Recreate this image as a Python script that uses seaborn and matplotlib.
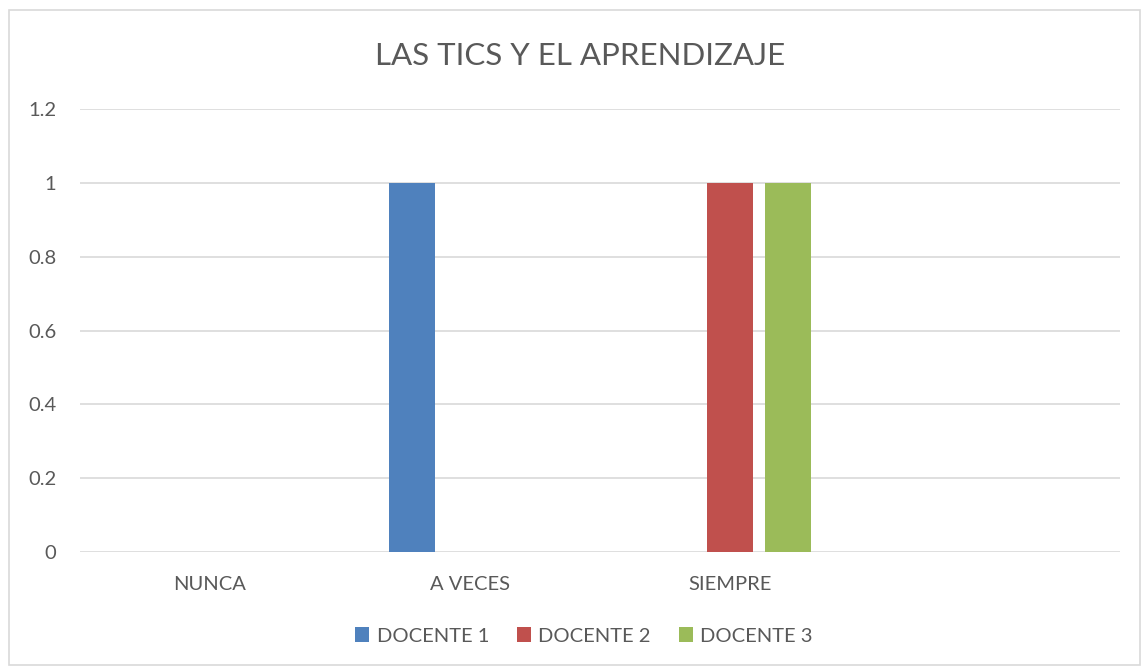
import pandas as pd
import matplotlib.pyplot as plt
import seaborn as sns
from matplotlib.patches import Rectangle

# --- Datos ---
categorias = ["NUNCA", "A VECES", "SIEMPRE"]
docentes = ["DOCENTE 1", "DOCENTE 2", "DOCENTE 3"]
docente_1 = [0, 1, 0]
docente_2 = [0, 0, 1]
docente_3 = [0, 0, 1]
y_ticks = [0, 0.2, 0.4, 0.6, 0.8, 1, 1.2]
y_labels = ["0", "0.2", "0.4", "0.6", "0.8", "1", "1.2"]

colores = ["#4F81BD", "#C0504D", "#9BBB59"]
gris_texto = "#595959"
gris_linea = "#D9D9D9"


def main():
    filas = []
    for nombre, valores in zip(docentes, [docente_1, docente_2, docente_3]):
        for cat, v in zip(categorias, valores):
            filas.append({"categoria": cat, "docente": nombre, "valor": v})
    df = pd.DataFrame(filas)

    sns.set_theme(style="white")
    plt.rcParams["font.family"] = ["Lato", "DejaVu Sans"]

    fig = plt.figure(figsize=(11.48, 6.71), dpi=100)
    ax = fig.add_axes([80 / 1148, 119 / 671, 1040 / 1148, 443 / 671])

    # cuarta categoría vacía, como en el original
    orden = categorias + [" "]
    sns.barplot(data=df, x="categoria", y="valor", hue="docente", order=orden,
                palette=colores, saturation=1, width=0.67, gap=0.21, linewidth=0,
                errorbar=None, ax=ax, legend=True)

    ax.set_xlim(-0.5, 3.5)
    ax.set_ylim(0, 1.2)
    ax.set_yticks(y_ticks)
    ax.set_yticklabels(y_labels)
    ax.set_xlabel("")
    ax.set_ylabel("")
    ax.grid(axis="y", color=gris_linea, linewidth=1.2)
    ax.set_axisbelow(True)
    for s in ax.spines.values():
        s.set_visible(False)
    ax.tick_params(axis="both", length=0, labelsize=14.5, colors=gris_texto)
    ax.tick_params(axis="y", pad=17)
    ax.tick_params(axis="x", pad=17)

    handles, labels = ax.get_legend_handles_labels()
    ax.get_legend().remove()
    fig.legend(handles, labels, loc="center", bbox_to_anchor=(584 / 1148, 35 / 671),
               ncol=3, frameon=False, fontsize=14.5, labelcolor=gris_texto,
               handlelength=0.7, handleheight=0.7, handletextpad=0.35,
               columnspacing=1.4)

    fig.text(580 / 1148, 615 / 671, "LAS TICS Y EL APRENDIZAJE", ha="center",
             va="center", fontsize=22.5, color=gris_texto)

    # borde del gráfico
    fig.patches.append(Rectangle((9 / 1148, 6 / 671), 1131 / 1148, 655 / 671,
                                 transform=fig.transFigure, fill=False,
                                 edgecolor=gris_linea, linewidth=1.2))

    fig.savefig("out.png", dpi=100)


if __name__ == "__main__":
    main()
